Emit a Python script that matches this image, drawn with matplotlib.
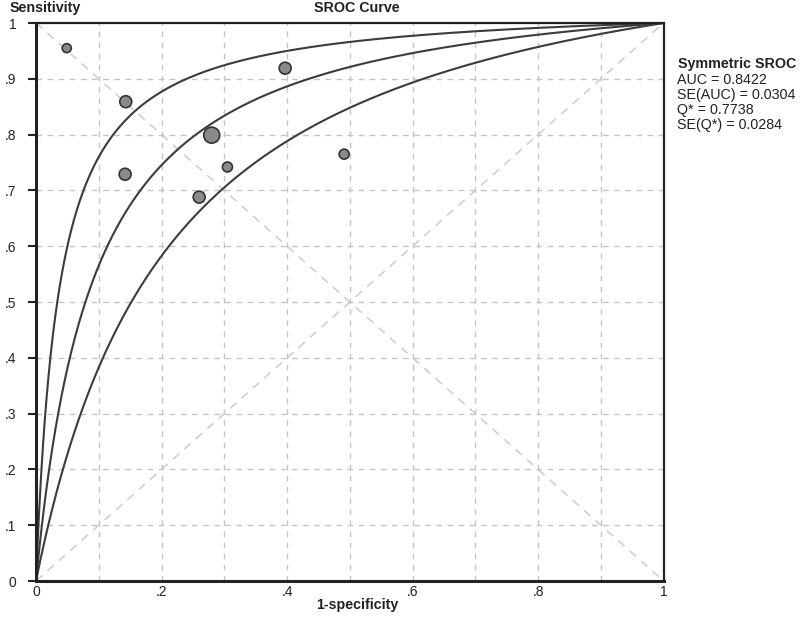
import numpy as np
import matplotlib
matplotlib.use("Agg")
import matplotlib.pyplot as plt

plt.rcParams['font.family'] = ['Liberation Sans', 'DejaVu Sans']

# study points (1-specificity, sensitivity) and marker size (weight)
fpr = [0.049, 0.143, 0.142, 0.280, 0.305, 0.260, 0.397, 0.491]
tpr = [0.955, 0.859, 0.729, 0.799, 0.742, 0.688, 0.919, 0.765]
marker_d = [6.5, 8.6, 8.6, 11.5, 7.2, 8.6, 8.6, 7.2]

# symmetric SROC: logit(TPR) - logit(FPR) = a  (upper CI, SROC, lower CI)
sroc_a = [3.35, 2.46, 1.72]

stats_title = "Symmetric SROC"
stats_lines = ["AUC = 0.8422", "SE(AUC) = 0.0304", "Q* = 0.7738", "SE(Q*) = 0.0284"]

xticks = [0, 0.2, 0.4, 0.6, 0.8, 1]
xlabels = ["0", ".2", ".4", ".6", ".8", "1"]
yticks = [0, .1, .2, .3, .4, .5, .6, .7, .8, .9, 1]
ylabels = ["0", ".1", ".2", ".3", ".4", ".5", ".6", ".7", ".8", ".9", "1"]

fig = plt.figure(figsize=(8, 6.17), dpi=100)
ax = fig.add_axes([0.045, 0.0583, 0.7845, 0.9044])

# grid
for g in np.arange(1, 10) / 10:
    ax.axvline(g, color='#c4c4c4', lw=1, ls=(0, (4, 4)), zorder=0)
    ax.axhline(g, color='#c4c4c4', lw=1, ls=(0, (4, 4)), zorder=0)

# diagonals
ax.plot([0, 1], [0, 1], color='#c8c8c8', lw=1, ls=(0, (6, 5)), zorder=1)
ax.plot([0, 1], [1, 0], color='#c8c8c8', lw=1, ls=(0, (6, 5)), zorder=1)

# curves
x = np.linspace(0, 1, 2001)
for a in sroc_a:
    ea = np.exp(a)
    y = x * ea / (x * ea + 1 - x)
    ax.plot(x, y, color='#3c3c3c', lw=1.5, zorder=2)

ax.scatter(fpr, tpr, s=np.array(marker_d) ** 2, c='#8a8a8a',
           edgecolors='#333333', linewidths=1.2, zorder=3)

ax.set_xlim(0, 1)
ax.set_ylim(0, 1)
for s in ax.spines.values():
    s.set_color('#222222')
    s.set_linewidth(1.6)
ax.spines['left'].set_linewidth(2.2)
ax.spines['bottom'].set_linewidth(2.2)

ax.set_xticks(xticks)
ax.set_xticklabels(xlabels)
ax.set_yticks(yticks)
ax.set_yticklabels(ylabels)
ax.tick_params(axis='x', length=0, pad=3, labelsize=10, colors='#222222')
ax.tick_params(axis='y', length=6, width=1.5, pad=8, labelsize=10, colors='#222222')

fig.text(10 / 800, 1 - 8 / 617, "Sensitivity", fontsize=10.3, fontweight='bold',
         va='center', ha='left', color='#222222')
fig.text(357 / 800, 1 - 8 / 617, "SROC Curve", fontsize=10.3, fontweight='bold',
         va='center', ha='center', color='#222222')
fig.text(357 / 800, 1 - 605 / 617, "1-specificity", fontsize=10.3, fontweight='bold',
         va='center', ha='center', color='#222222')

fig.text(678 / 800, 1 - 64 / 617, stats_title, fontsize=10.3, fontweight='bold',
         va='center', ha='left', color='#222222')
for i, line in enumerate(stats_lines):
    fig.text(677 / 800, 1 - (80 + 15 * i) / 617, line, fontsize=10.3,
             va='center', ha='left', color='#222222')

fig.savefig("out.png", dpi=100)
